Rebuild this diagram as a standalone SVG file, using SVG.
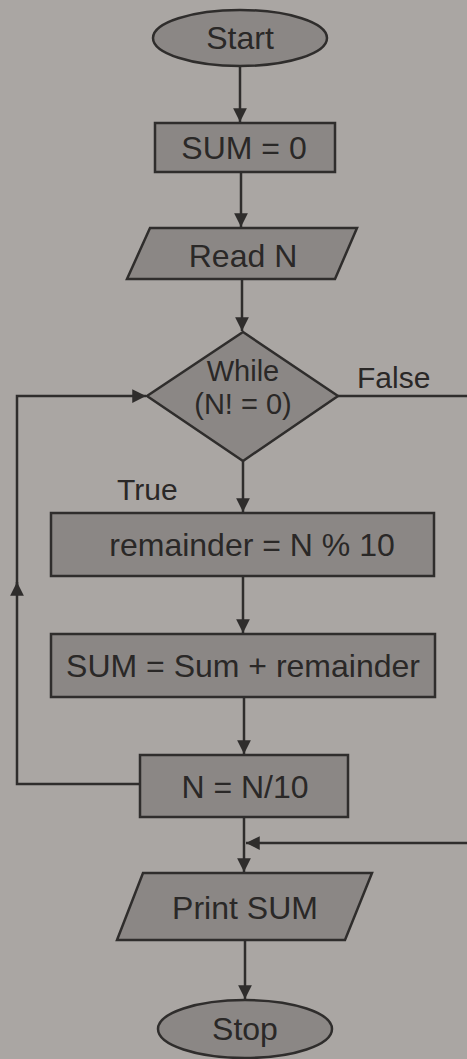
<svg xmlns="http://www.w3.org/2000/svg" width="467" height="1059" viewBox="0 0 467 1059">
<style>
.shape{fill:#8b8785;stroke:#2f2d2c;stroke-width:2.5}
.t{font-family:"Liberation Sans",Arial,sans-serif;font-size:32px;fill:#2a2827;text-anchor:middle}
.d{font-size:29px}
.lbl{font-family:"Liberation Sans",Arial,sans-serif;font-size:30px;fill:#2a2827}
.c{fill:none;stroke:#2f2d2c;stroke-width:2.5}
</style>
<defs>
<marker id="ah" viewBox="0 0 10 10" refX="10" refY="5" markerWidth="5.5" markerHeight="5.5" orient="auto" markerUnits="strokeWidth">
<path d="M0,0 L10,5 L0,10 z" fill="#2f2d2c"/>
</marker>
</defs>
<rect width="467" height="1059" fill="#aaa6a3"/>
<g id="connectors">
<path class="c" d="M240,66 V122" marker-end="url(#ah)"/>
<path class="c" d="M241,172 V227" marker-end="url(#ah)"/>
<path class="c" d="M242,279 V331" marker-end="url(#ah)"/>
<path class="c" d="M243,461 V512" marker-end="url(#ah)"/>
<path class="c" d="M243,576 V633" marker-end="url(#ah)"/>
<path class="c" d="M244,697 V754" marker-end="url(#ah)"/>
<path class="c" d="M140,784 H17 V583"/>
<path class="c" d="M17,590 V582" marker-end="url(#ah)"/>
<path class="c" d="M17,583 V396 H146" marker-end="url(#ah)"/>
<path class="c" d="M244,817 V872" marker-end="url(#ah)"/>
<path class="c" d="M338,396 H480 V843 H246" marker-end="url(#ah)"/>
<path class="c" d="M245,940 V999" marker-end="url(#ah)"/>
<text class="lbl" x="357" y="388">False</text>
<text class="lbl" x="117" y="500">True</text>
</g>
<g id="start">
<ellipse class="shape" cx="240" cy="38" rx="87" ry="28"/>
<text class="t" x="240" y="49">Start</text>
</g>
<g id="sum0">
<rect class="shape" x="155" y="123" width="180" height="49"/>
<text class="t" x="244" y="159">SUM = 0</text>
</g>
<g id="readN">
<polygon class="shape" points="150,228 357,228 335,279 127,279"/>
<text class="t" x="243" y="267">Read N</text>
</g>
<g id="while">
<polygon class="shape" points="243,332 338,396 243,461 147,396"/>
<text class="t d" x="243" y="381">While</text>
<text class="t d" x="243" y="414">(N! = 0)</text>
</g>
<g id="remainder">
<rect class="shape" x="51" y="513" width="383" height="63"/>
<text class="t" x="252" y="556">remainder = N % 10</text>
</g>
<g id="sumadd">
<rect class="shape" x="51" y="634" width="384" height="63"/>
<text class="t" x="243" y="677">SUM = Sum + remainder</text>
</g>
<g id="ndiv">
<rect class="shape" x="140" y="755" width="208" height="62"/>
<text class="t" x="245" y="798">N = N/10</text>
</g>
<g id="print">
<polygon class="shape" points="143,873 372,873 345,940 117,940"/>
<text class="t" x="245" y="919">Print SUM</text>
</g>
<g id="stop">
<ellipse class="shape" cx="245" cy="1029" rx="87" ry="29"/>
<text class="t" x="245" y="1040">Stop</text>
</g>
</svg>
